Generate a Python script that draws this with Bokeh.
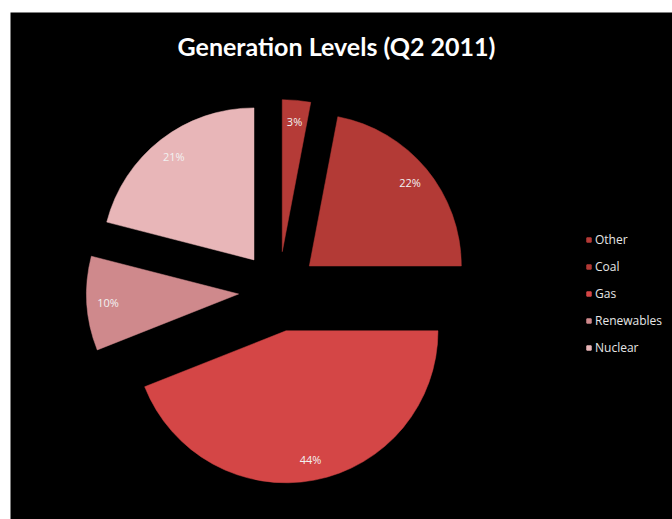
import math
from bokeh.plotting import figure
from bokeh.models import ColumnDataSource, Legend, LegendItem, Label
from bokeh.core.properties import value
from bokeh.embed import file_html
from bokeh.resources import INLINE

# ---- data ----
categories = ["Other", "Coal", "Gas", "Renewables", "Nuclear"]
shares = [3, 22, 44, 10, 21]
labels = ["3%", "22%", "44%", "10%", "21%"]
colors = ["#B53B37", "#B33A36", "#D44646", "#CF898C", "#E8B6B8"]
title_text = "Generation Levels (Q2 2011)"

# ---- geometry (layout) ----
PX = 152.0          # pixels per unit radius
EXPLODE = 40 / PX
LABEL_R = 0.86
OX, OY = 10, 12     # frame offset in picture
W, H = 662, 507
cx_s, cy_s = 278 - OX, 291 - OY   # pie centre in frame pixels from top-left

total = float(sum(shares))
starts, ends, xs, ys, lx, ly = [], [], [], [], [], []
cum = 0.0
for s in shares:
    a0 = math.pi / 2 - 2 * math.pi * cum / total
    cum += s
    a1 = math.pi / 2 - 2 * math.pi * cum / total
    mid = (a0 + a1) / 2
    ox, oy = EXPLODE * math.cos(mid), EXPLODE * math.sin(mid)
    starts.append(a0)
    ends.append(a1)
    xs.append(ox)
    ys.append(oy)
    lx.append(ox + LABEL_R * math.cos(mid))
    ly.append(oy + LABEL_R * math.sin(mid))

src = ColumnDataSource(dict(cat=categories, share=shares, lab=labels, color=colors,
                            start=starts, end=ends, x=xs, y=ys, lx=lx, ly=ly,
                            nx=[float("nan")] * len(shares), ny=[float("nan")] * len(shares)))

x0 = -cx_s / PX
x1 = (W - cx_s) / PX
y1 = cy_s / PX
y0 = -(H - cy_s) / PX

p = figure(width=W, height=H, x_range=(x0, x1), y_range=(y0, y1),
           output_backend="svg", toolbar_location=None, min_border=0)
p.margin = (OY, 0, 0, OX)
p.axis.visible = False
p.grid.visible = False
p.outline_line_color = None
p.background_fill_color = "black"
p.border_fill_color = "black"

p.wedge(x="x", y="y", radius=1.0, start_angle="start", end_angle="end",
        direction="clock", fill_color="color", line_color="color", line_width=0.5,
        source=src)

p.text(x="lx", y="ly", text="lab", source=src, text_color="#F2F2F2",
       text_font=value("Open Sans"), text_font_size="11px",
       text_align="center", text_baseline="middle")

dummy = p.scatter(x="nx", y="ny", marker="square", size=8, fill_color="color",
                  line_color="color", source=src)
items = [LegendItem(label=c, renderers=[dummy], index=i) for i, c in enumerate(categories)]
legend = Legend(items=items, location=(583 - OX, OY + H - 356), orientation="vertical",
                background_fill_alpha=0, border_line_color=None,
                label_text_color="#E6E6E6", label_text_font="Open Sans",
                label_text_font_size="12px", glyph_width=11, glyph_height=11,
                label_height=14, label_standoff=1, spacing=10, padding=0, margin=0)
p.add_layout(legend, "center")

p.add_layout(Label(x=336 - OX, y=OY + H - 45, x_units="screen", y_units="screen",
                   text=title_text, text_color="white", text_font="Lato",
                   text_font_style="bold", text_font_size="25px",
                   text_align="center", text_baseline="middle"))

open("out.html", "w").write(file_html(p, INLINE))
